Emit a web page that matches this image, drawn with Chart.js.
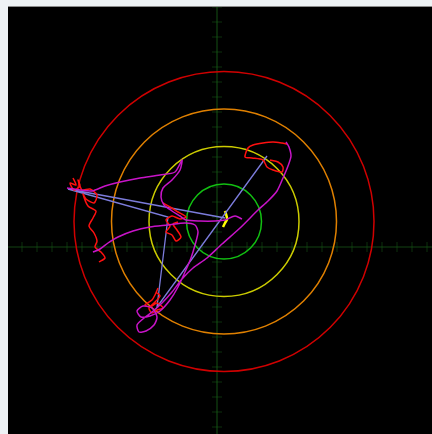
<!DOCTYPE html>
<html>
<head>
<meta charset="utf-8">
<script src="https://cdn.jsdelivr.net/npm/chart.js@4.4.1/dist/chart.umd.min.js"></script>
<style>
  html, body { margin: 0; padding: 0; background: #eef2f5; width: 432px; height: 434px; overflow: hidden; }
  #frame { position: absolute; left: 8px; top: 6px; width: 424px; height: 428px; background: #000;
           border-top: 1px solid #8c8c8c; box-sizing: border-box; }
  canvas { display: block; }
</style>
</head>
<body>
<div id="frame"><canvas id="c" width="424" height="427"></canvas></div>
<script>
// Plot extent (data units) and crosshair tick step
const xRange = [-209, 215];
const yRange = [-187, 240];
const tickStep = 15;

// Target rings: shared centre, radii and colours
const ringCenter = [7, 25.5];
const ringRadii = [37.5, 75, 112.5, 150];
const ringColors = ['#12c012', '#cccc00', '#e08000', '#d00000'];

// Fixation path connecting the cluster centres
const fixX = [50, -60, -49, -149, 8];
const fixY = [91, -60, 30, 58, 29];

// Gaze traces
const magAX = [-150, -137, -125, -112, -97, -77, -57, -42, -35, -37, -45, -54, -56, -53, -45, -37, -31, -17, -2, 8, 18, 25];
const magAY = [59, 57, 56, 61, 65, 69, 72, 75, 87, 77, 67, 59, 50, 42, 36, 31, 27, 26, 26, 27, 31, 28];

const magBX = [-124, -117, -109, -99, -84, -67, -49, -32, -22, -19, -22, -26, -32, -39, -47, -57, -67, -76, -80, -74, -65, -60, -63, -71, -78, -80, -73, -65, -55, -45, -35, -24, -10, 5, 23, 41, 51, 60, 66, 71, 74, 72, 69];
const magBY = [-5, -2, 4, 10, 16, 20, 22, 24, 22, 15, 2, -11, -25, -40, -53, -64, -69, -70, -64, -59, -61, -70, -78, -84, -85, -78, -71, -65, -56, -45, -32, -21, -11, 3, 19, 37, 46, 56, 69, 81, 91, 100, 105];

const redLeftX = [-144, -141, -147, -143, -137, -139, -135, -127, -120, -123, -131, -134, -129, -121, -124, -128, -123, -120, -122, -116, -112, -118];
const redLeftY = [69, 62, 64, 57, 61, 67, 57, 58, 52, 44, 48, 53, 41, 36, 29, 21, 14, 6, 0, -5, -11, -15];

const redMidX = [-54, -47, -39, -31, -37, -45, -51, -47, -51, -45, -41, -36, -40, -44, -39];
const redMidY = [44, 40, 35, 30, 28, 31, 27, 21, 15, 12, 6, 10, 17, 23, 25];

const redTopX = [70, 65, 56, 46, 36, 31, 28, 35, 46, 50, 56, 65, 66, 61, 53];
const redTopY = [103, 104, 105, 104, 102, 99, 90, 89, 87, 80, 77, 75, 80, 85, 87];

const redLowX = [-59, -62, -65, -72, -67, -60, -54, -60, -65, -68, -62, -57, -61];
const redLowY = [-41, -48, -53, -58, -60, -56, -61, -63, -66, -61, -55, -49, -45];

const yelX = [8, 9, 10, 8, 6];
const yelY = [36, 33, 28, 24, 20];

function pts(xs, ys) { return xs.map((x, i) => ({ x: x, y: ys[i] })); }

function trace(xs, ys, color, width, tension) {
  return {
    data: pts(xs, ys), showLine: true, borderColor: color, backgroundColor: color,
    borderWidth: width, pointRadius: 0, tension: tension
  };
}

// Crosshair axes with tick marks and the concentric target rings
const overlay = {
  id: 'overlay',
  beforeDatasetsDraw(chart) {
    const { ctx, chartArea: a, scales: { x, y } } = chart;
    ctx.save();
    const x0 = x.getPixelForValue(0), y0 = y.getPixelForValue(0);
    ctx.strokeStyle = 'rgba(25,95,25,0.7)';
    ctx.lineWidth = 1.2;
    ctx.beginPath();
    ctx.moveTo(x0, a.top); ctx.lineTo(x0, a.bottom);
    ctx.moveTo(a.left, y0); ctx.lineTo(a.right, y0);
    ctx.stroke();
    ctx.strokeStyle = 'rgba(25,95,25,0.5)';
    ctx.lineWidth = 1;
    ctx.beginPath();
    for (let v = Math.ceil(xRange[0] / tickStep) * tickStep; v <= xRange[1]; v += tickStep) {
      if (v === 0) continue;
      const px = x.getPixelForValue(v);
      ctx.moveTo(px, y0 - 5); ctx.lineTo(px, y0 + 5);
    }
    for (let v = Math.ceil(yRange[0] / tickStep) * tickStep; v <= yRange[1]; v += tickStep) {
      if (v === 0) continue;
      const py = y.getPixelForValue(v);
      ctx.moveTo(x0 - 5, py); ctx.lineTo(x0 + 5, py);
    }
    ctx.stroke();

    const cx = x.getPixelForValue(ringCenter[0]);
    const cy = y.getPixelForValue(ringCenter[1]);
    ringRadii.forEach((r, i) => {
      const rp = x.getPixelForValue(ringCenter[0] + r) - cx;
      ctx.strokeStyle = ringColors[i];
      ctx.lineWidth = 1.5;
      ctx.beginPath();
      ctx.arc(cx, cy, rp, 0, Math.PI * 2);
      ctx.stroke();
    });
    ctx.restore();
  }
};

new Chart(document.getElementById('c'), {
  type: 'scatter',
  data: {
    datasets: [
      trace(magAX, magAY, '#c814c8', 1.5, 0.25),
      trace(magBX, magBY, '#c814c8', 1.5, 0.25),
      trace(redLeftX, redLeftY, '#ff1010', 1.5, 0.25),
      trace(redMidX, redMidY, '#ff1010', 1.5, 0.25),
      trace(redTopX, redTopY, '#ff1010', 1.5, 0.25),
      trace(redLowX, redLowY, '#ff1010', 1.5, 0.25),
      trace(fixX, fixY, '#7c7cdc', 1.3, 0),
      trace(yelX, yelY, '#ffff00', 2.5, 0.3)
    ]
  },
  options: {
    responsive: false,
    animation: false,
    layout: { padding: 0 },
    plugins: { legend: { display: false }, tooltip: { enabled: false } },
    scales: {
      x: { type: 'linear', display: false, min: xRange[0], max: xRange[1] },
      y: { type: 'linear', display: false, min: yRange[0], max: yRange[1] }
    }
  },
  plugins: [overlay]
});
</script>
</body>
</html>
